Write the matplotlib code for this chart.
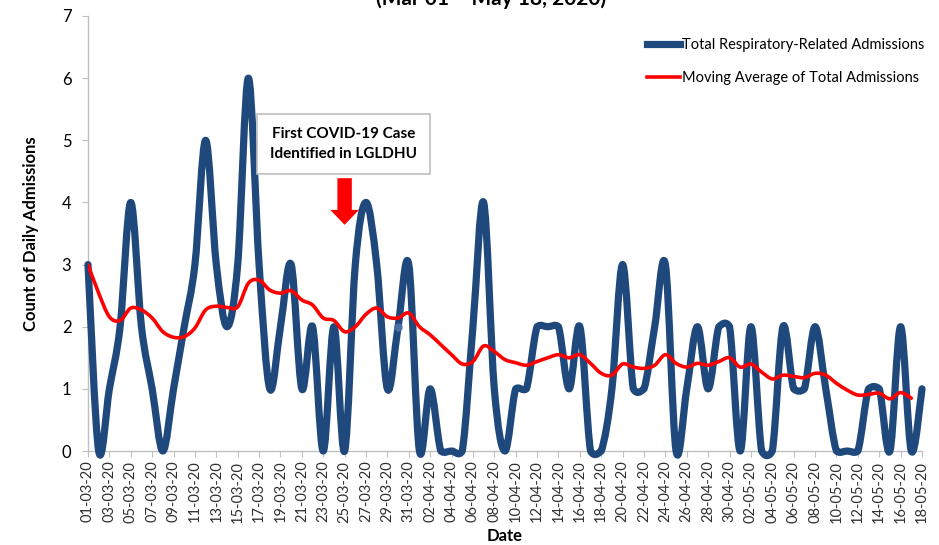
import numpy as np
import pandas as pd
import matplotlib
matplotlib.use('Agg')
import matplotlib.pyplot as plt
from matplotlib.path import Path
from matplotlib.patches import PathPatch, FancyArrow
from matplotlib.lines import Line2D

plt.rcParams['font.family'] = ['Lato', 'DejaVu Sans']

# daily counts 01-03-20 .. 18-05-20
admissions = [3, 0, 1, 2, 4, 2, 1, 0, 1, 2,
              3, 5, 3, 2, 3, 6, 3, 1, 2, 3,
              1, 2, 0, 2, 0, 3, 4, 3, 1, 2,
              3, 0, 1, 0, 0, 0, 2, 4, 1, 0,
              1, 1, 2, 2, 2, 1, 2, 0, 0, 1,
              3, 1, 1, 2, 3, 0, 1, 2, 1, 2,
              2, 0, 2, 0, 0, 2, 1, 1, 2, 1,
              0, 0, 0, 1, 1, 0, 2, 0, 1]
# moving average (ends one day earlier)
moving_avg = [3.0, 2.54, 2.16, 2.1, 2.3, 2.27, 2.14, 1.92, 1.83, 1.84,
              1.98, 2.27, 2.33, 2.31, 2.32, 2.7, 2.75, 2.59, 2.54, 2.58,
              2.43, 2.35, 2.14, 2.1, 1.92, 2.0, 2.2, 2.3, 2.16, 2.14,
              2.22, 2.0, 1.87, 1.71, 1.55, 1.4, 1.44, 1.69, 1.6, 1.47,
              1.42, 1.38, 1.44, 1.5, 1.55, 1.5, 1.55, 1.41, 1.25, 1.22,
              1.4, 1.35, 1.33, 1.38, 1.55, 1.41, 1.35, 1.41, 1.38, 1.44,
              1.5, 1.35, 1.4, 1.27, 1.16, 1.22, 1.2, 1.18, 1.25, 1.22,
              1.09, 0.98, 0.9, 0.91, 0.93, 0.84, 0.94, 0.85]

dates = pd.date_range('2020-03-01', periods=len(admissions), freq='D')
date_labels = [d.strftime('%d-%m-%y') for d in dates]
first_case_day = 24  # 25-03-20


def smooth_path(y):
    # Excel-style smoothed line: cubic bezier through every point
    pts = np.column_stack([np.arange(len(y)), np.asarray(y, float)])
    verts = [pts[0]]
    codes = [Path.MOVETO]
    for i in range(len(pts) - 1):
        p0 = pts[max(i - 1, 0)]
        p1 = pts[i]
        p2 = pts[i + 1]
        p3 = pts[min(i + 2, len(pts) - 1)]
        c1 = p1 + (p2 - p0) / 6.0
        c2 = p2 - (p3 - p1) / 6.0
        if p1[1] == p2[1]:
            # keep flat runs flat
            c1[1] = p1[1] + (c1[1] - p1[1]) * 0.3
            c2[1] = p2[1] + (c2[1] - p2[1]) * 0.3
        verts += [c1, c2, p2]
        codes += [Path.CURVE4] * 3
    return Path(verts, codes)


fig = plt.figure(figsize=(9.39, 5.45), dpi=100)
ax = fig.add_axes([88 / 939, 94 / 545, 834 / 939, 435 / 545])

blue = '#1f497d'
red = '#ff0000'
ax.add_patch(PathPatch(smooth_path(admissions), facecolor='none', edgecolor=blue,
                       lw=5.2, capstyle='round', joinstyle='round', clip_on=False, zorder=3))
ax.add_patch(PathPatch(smooth_path(moving_avg), facecolor='none', edgecolor=red,
                       lw=2.6, capstyle='round', zorder=4))
ax.plot([29], [admissions[29]], 'o', color='#4a6fa5', ms=5, zorder=3)

ax.set_xlim(0, len(admissions) - 1)
ax.set_ylim(0, 7)
ax.set_xticks(range(0, len(admissions), 2))
ax.set_xticklabels(date_labels[::2], rotation=90, fontsize=10.5, color='#404040')
ax.set_yticks(range(0, 8))
ax.tick_params(axis='y', labelsize=12, colors='#bfbfbf', labelcolor='#000000', length=4, pad=8)
ax.tick_params(axis='x', colors='#bfbfbf', labelcolor='#303030', length=4, pad=3)
for s in ['top', 'right']:
    ax.spines[s].set_visible(False)
for s in ['left', 'bottom']:
    ax.spines[s].set_color('#bfbfbf')
    ax.spines[s].set_linewidth(1.0)

ax.set_ylabel('Count of Daily Admissions', fontsize=12, fontweight='bold', labelpad=16)
ax.set_xlabel('Date', fontsize=12, fontweight='bold', labelpad=4)

fig.text(491 / 939, 1 - 5 / 545, '(Mar 01 \u2013 May 18, 2020)', ha='center', va='baseline',
         fontsize=15, fontweight='bold')

# annotation box and arrow
ax.text(first_case_day - 0.1, 4.94, 'First COVID-19 Case\nIdentified in LGLDHU', ha='center', va='center',
        fontsize=11, fontweight='bold', linespacing=1.55,
        bbox=dict(boxstyle='square,pad=0.85', facecolor='white', edgecolor='#bfbfbf', lw=1.2), zorder=5)
ax.add_patch(FancyArrow(first_case_day, 4.39, 0, -0.75, width=1.35, head_width=2.7, head_length=0.24,
                        length_includes_head=True, color=red, lw=0, zorder=5))

handles = [Line2D([], [], color=blue, lw=5.2), Line2D([], [], color=red, lw=2.6)]
ax.legend(handles, ['Total Respiratory-Related Admissions', 'Moving Average of Total Admissions'],
          loc='upper right', bbox_to_anchor=(1.018, 0.98), frameon=False, fontsize=10.5,
          handlelength=2.3, handletextpad=0.1, labelspacing=1.3)

fig.savefig('out.png', dpi=100, facecolor='white')
